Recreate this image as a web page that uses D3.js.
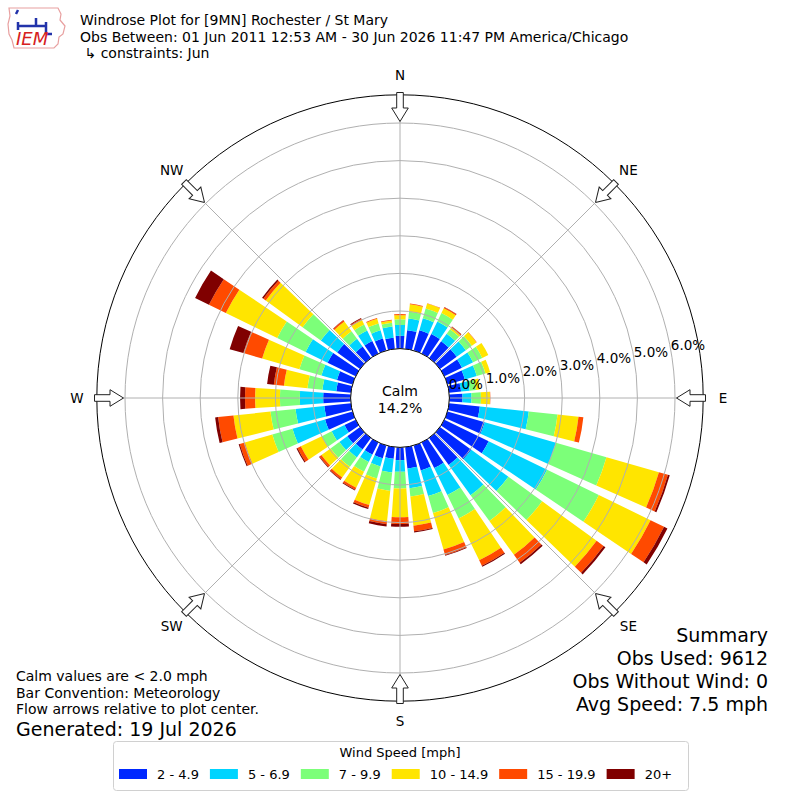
<!DOCTYPE html>
<html>
<head>
<meta charset="utf-8">
<script src="https://cdn.jsdelivr.net/npm/d3@7"></script>
<style>
  body { margin: 0; background: #fff; }
  text { font-family: "DejaVu Sans", sans-serif; }
</style>
</head>
<body>
<div id="chart"></div>
<script>
// wind directions (deg, meteorological) and percent of obs per speed bin
const directions = d3.range(0, 360, 10);
const speedLabels = ["2 - 4.9", "5 - 6.9", "7 - 9.9", "10 - 14.9", "15 - 19.9", "20+"];
const speedColors = ["#0028ff", "#00d4ff", "#7cff79", "#ffe500", "#ff4a00", "#800000"];

const pct2to5 = [0.34, 0.50, 0.56, 0.58, 0.55, 0.55, 0.52, 0.48, 0.32, 0.35, 0.82, 1.03,
                 1.31, 1.03, 0.89, 0.76, 0.69, 0.57, 0.34, 0.31, 0.35, 0.36, 0.38, 0.42,
                 0.33, 0.76, 0.71, 0.73, 0.39, 0.43, 0.83, 0.75, 0.38, 0.37, 0.33, 0.30];
const pct5to7 = [0.29, 0.31, 0.33, 0.37, 0.25, 0.30, 0.33, 0.33, 0.23, 0.24, 1.31, 1.97,
                 1.73, 1.22, 0.99, 0.80, 0.71, 0.53, 0.31, 0.37, 0.23, 0.22, 0.26, 0.26,
                 0.38, 0.90, 0.77, 0.62, 0.37, 0.43, 0.65, 0.54, 0.25, 0.31, 0.23, 0.30];
const pct7to10 = [0.15, 0.18, 0.27, 0.25, 0.15, 0.20, 0.27, 0.24, 0.17, 0.25, 0.77, 1.40,
                  1.53, 1.11, 0.85, 0.69, 0.47, 0.22, 0.44, 0.49, 0.33, 0.29, 0.31, 0.29,
                  0.29, 0.56, 0.67, 0.53, 0.40, 0.61, 0.84, 0.60, 0.25, 0.18, 0.19, 0.10];
const pct10to15 = [0.11, 0.20, 0.14, 0.14, 0.05, 0.15, 0.18, 0.13, 0.10, 0.24, 0.56, 1.45,
                   1.53, 1.79, 1.11, 1.24, 1.01, 0.78, 0.77, 0.81, 0.74, 0.47, 0.35, 0.30,
                   0.62, 0.76, 0.99, 0.66, 0.63, 1.03, 1.52, 1.21, 0.32, 0.14, 0.13, 0.06];
const pct15to20 = [0.03, 0.02, 0.01, 0.03, 0.03, 0.01, 0.00, 0.00, 0.00, 0.01, 0.13, 0.25,
                   0.40, 0.23, 0.26, 0.16, 0.15, 0.15, 0.18, 0.08, 0.07, 0.06, 0.06, 0.06,
                   0.10, 0.14, 0.41, 0.27, 0.27, 0.52, 0.50, 0.08, 0.04, 0.03, 0.02, 0.02];
const pct20plus = [0.00, 0.00, 0.00, 0.01, 0.01, 0.00, 0.00, 0.00, 0.00, 0.00, 0.00, 0.05,
                   0.10, 0.06, 0.05, 0.03, 0.02, 0.03, 0.07, 0.06, 0.04, 0.02, 0.02, 0.02,
                   0.03, 0.03, 0.08, 0.13, 0.18, 0.38, 0.41, 0.04, 0.01, 0.02, 0.00, 0.00];

const radialTicks = [0, 1, 2, 3, 4, 5, 6];
const compass = [["N", 0], ["NE", 45], ["E", 90], ["SE", 135], ["S", 180], ["SW", 225], ["W", 270], ["NW", 315]];
const calmPct = 14.2;

const titleLines = ["Windrose Plot for [9MN] Rochester / St Mary",
                    "Obs Between: 01 Jun 2011 12:53 AM - 30 Jun 2026 11:47 PM America/Chicago",
                    " \u21b3 constraints: Jun"];
const noteLines = ["Calm values are < 2.0 mph", "Bar Convention: Meteorology", "Flow arrows relative to plot center."];
const generatedText = "Generated: 19 Jul 2026";
const summaryLines = ["Summary", "Obs Used: 9612", "Obs Without Wind: 0", "Avg Speed: 7.5 mph"];

// ---- setup
const width = 800, height = 800;
const cx = 400, cy = 398;
const rad = Math.PI / 180;

const svg = d3.select("#chart").append("svg")
    .attr("width", width)
    .attr("height", height);
svg.append("rect").attr("width", width).attr("height", height).attr("fill", "#fff");

const rScale = d3.scaleLinear().domain([0, 6.75]).range([49.4, 303.2]);
const rOuter = rScale(6.75);

const keys = ["s0", "s1", "s2", "s3", "s4", "s5"];
const series = [pct2to5, pct5to7, pct7to10, pct10to15, pct15to20, pct20plus];
const table = directions.map((dir, i) => {
    let row = {dir: dir};
    keys.forEach((k, j) => row[k] = series[j][i]);
    return row;
});
const stacked = d3.stack().keys(keys)(table);

const plot = svg.append("g").attr("transform", `translate(${cx},${cy})`);

// bars
const arc = d3.arc()
    .innerRadius(d => rScale(d[0]))
    .outerRadius(d => rScale(d[1]))
    .startAngle(d => (d.data.dir - 4) * rad)
    .endAngle(d => (d.data.dir + 4) * rad);

plot.selectAll("g.layer")
    .data(stacked)
    .enter().append("g")
    .attr("class", "layer")
    .attr("fill", (d, i) => speedColors[i])
    .selectAll("path")
    .data(d => d)
    .enter().append("path")
    .attr("d", arc);

// grid on top of bars
plot.selectAll("circle.grid")
    .data(radialTicks.slice(1))
    .enter().append("circle")
    .attr("class", "grid")
    .attr("r", d => rScale(d))
    .attr("fill", "none")
    .attr("stroke", "#b0b0b0")
    .attr("stroke-width", 1);

plot.selectAll("line.spoke")
    .data(d3.range(0, 360, 45))
    .enter().append("line")
    .attr("class", "spoke")
    .attr("x1", 0).attr("y1", 0)
    .attr("x2", d => rOuter * Math.sin(d * rad))
    .attr("y2", d => -rOuter * Math.cos(d * rad))
    .attr("stroke", "#b0b0b0")
    .attr("stroke-width", 1);

plot.append("circle")
    .attr("r", rOuter)
    .attr("fill", "none")
    .attr("stroke", "#000")
    .attr("stroke-width", 1);

// calm circle
plot.append("circle")
    .attr("r", rScale(0))
    .attr("fill", "#fff")
    .attr("stroke", "#000")
    .attr("stroke-width", 1);
plot.append("text")
    .attr("text-anchor", "middle")
    .attr("y", -2)
    .attr("font-size", 14)
    .text("Calm");
plot.append("text")
    .attr("text-anchor", "middle")
    .attr("y", 15)
    .attr("font-size", 14)
    .text(calmPct.toFixed(1) + "%");

// radial labels
plot.selectAll("text.rlabel")
    .data(radialTicks)
    .enter().append("text")
    .attr("class", "rlabel")
    .attr("x", d => rScale(d) * Math.sin(80 * rad))
    .attr("y", d => -rScale(d) * Math.cos(80 * rad))
    .attr("font-size", 13.5)
    .text(d => d3.format(".1f")(d) + "%");

// flow arrows
const arrowPath = d3.line()([
    [0, -276.5], [8.3, -290], [3.3, -290], [3.3, -305.5],
    [-3.3, -305.5], [-3.3, -290], [-8.3, -290], [0, -276.5]
]);
plot.selectAll("path.arrow")
    .data(compass)
    .enter().append("path")
    .attr("class", "arrow")
    .attr("d", arrowPath)
    .attr("transform", d => `rotate(${d[1]})`)
    .attr("fill", "#fff")
    .attr("stroke", "#222")
    .attr("stroke-width", 1);

plot.selectAll("text.compass")
    .data(compass)
    .enter().append("text")
    .attr("class", "compass")
    .attr("x", d => 323 * Math.sin(d[1] * rad))
    .attr("y", d => -323 * Math.cos(d[1] * rad) + 5)
    .attr("text-anchor", "middle")
    .attr("font-size", 13.5)
    .text(d => d[0]);

// title
svg.selectAll("text.title")
    .data(titleLines)
    .enter().append("text")
    .attr("class", "title")
    .attr("x", 80)
    .attr("y", (d, i) => 25 + i * 16.5)
    .attr("font-size", 14)
    .style("white-space", "pre")
    .text(d => d);

// IEM logo
const logo = svg.append("g").attr("transform", "translate(6,4)");
logo.append("path")
    .attr("d", "M3,4 L52,4 L55,10 L54,16 L59,22 L57,30 L53,33 L52,40 L48,44 L8,44 L6,36 L3,30 L2,20 L4,12 Z")
    .attr("fill", "none")
    .attr("stroke", "#e8a0a0")
    .attr("stroke-width", 1.2);
logo.append("path")
    .attr("d", "M12,22 L40,22 M30,14 L30,22 M40,18 L40,30 M40,30 L46,30 M12,18 L12,26 M10,10 L12,6")
    .attr("fill", "none")
    .attr("stroke", "#2233aa")
    .attr("stroke-width", 2.5);
logo.append("text")
    .attr("x", 10)
    .attr("y", 41)
    .attr("font-family", "Liberation Serif, serif")
    .attr("font-style", "italic")
    .attr("font-size", 18)
    .attr("fill", "#d62020")
    .text("IEM");

// notes bottom left
svg.selectAll("text.note")
    .data(noteLines)
    .enter().append("text")
    .attr("class", "note")
    .attr("x", 16)
    .attr("y", (d, i) => 681 + i * 16.5)
    .attr("font-size", 14)
    .text(d => d);
svg.append("text")
    .attr("x", 16)
    .attr("y", 736)
    .attr("font-size", 19)
    .text(generatedText);

// summary bottom right
svg.selectAll("text.summary")
    .data(summaryLines)
    .enter().append("text")
    .attr("class", "summary")
    .attr("x", 768)
    .attr("y", (d, i) => 642 + i * 23)
    .attr("text-anchor", "end")
    .attr("font-size", 19)
    .text(d => d);

// legend
const legend = svg.append("g");
legend.append("rect")
    .attr("x", 113.5).attr("y", 741.5)
    .attr("width", 575).attr("height", 49)
    .attr("rx", 3)
    .attr("fill", "#fff")
    .attr("stroke", "#d0d0d0");
legend.append("text")
    .attr("x", 400)
    .attr("y", 757)
    .attr("text-anchor", "middle")
    .attr("font-size", 13)
    .text("Wind Speed [mph]");

let lx = 119;
speedLabels.forEach((lab, i) => {
    legend.append("rect")
        .attr("x", lx).attr("y", 769)
        .attr("width", 28).attr("height", 10)
        .attr("fill", speedColors[i]);
    const t = legend.append("text")
        .attr("x", lx + 38)
        .attr("y", 779)
        .attr("font-size", 13)
        .text(lab);
    lx += 38 + t.node().getComputedTextLength() + 11;
});
</script>
</body>
</html>
